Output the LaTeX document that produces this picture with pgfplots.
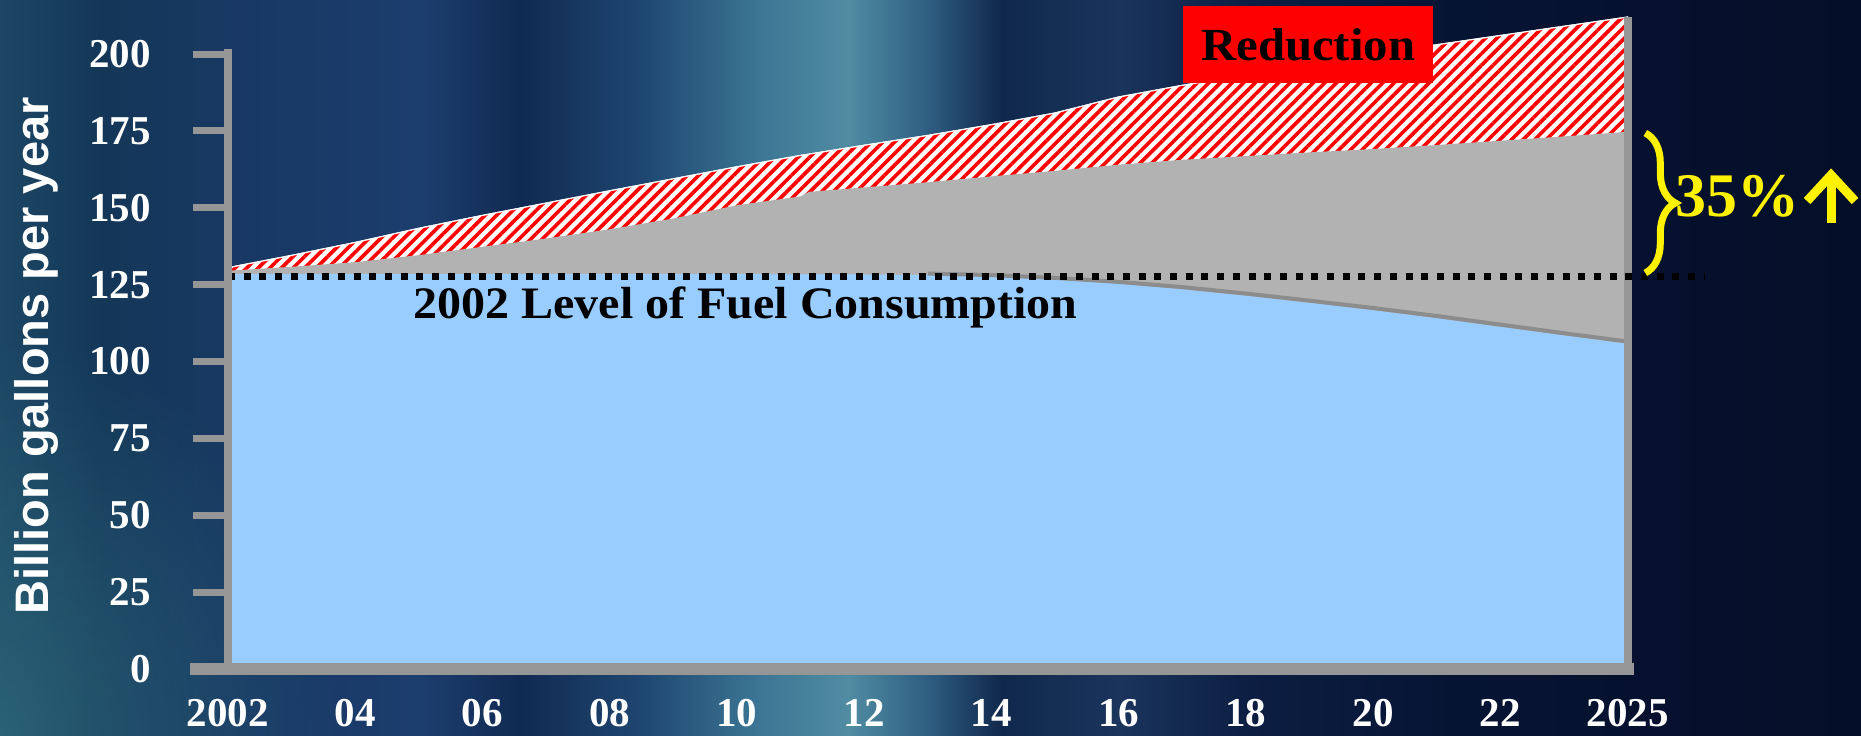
\documentclass[border=0pt]{standalone}
\usepackage{pgfplots}
\pgfplotsset{compat=1.18}
\usepackage{fontspec}
\setmainfont{Liberation Serif}
\newfontfamily\arialf{Liberation Sans}
\usetikzlibrary{patterns.meta, decorations.pathreplacing, arrows.meta, fadings}

\definecolor{axisgray}{RGB}{150,150,150}
\definecolor{areagray}{RGB}{178,178,178}
\definecolor{skyblue}{RGB}{153,204,255}
\definecolor{darkedge}{RGB}{140,140,140}
\definecolor{tealc}{RGB}{50,112,128}
\definecolor{bg0}{RGB}{28,70,100}
\definecolor{bg1}{RGB}{20,55,88}
\definecolor{bg2}{RGB}{24,56,100}
\definecolor{bg3}{RGB}{28,62,110}
\definecolor{bg4}{RGB}{16,42,82}
\definecolor{bg5}{RGB}{30,70,112}
\definecolor{bg6}{RGB}{60,118,148}
\definecolor{bg7}{RGB}{80,140,162}
\definecolor{bg8}{RGB}{45,92,128}
\definecolor{bg9}{RGB}{16,40,76}
\definecolor{bg10}{RGB}{26,52,92}
\definecolor{bg11}{RGB}{12,30,66}
\definecolor{bg12}{RGB}{6,20,52}
\definecolor{bg13}{RGB}{4,14,40}

\pgfdeclarehorizontalshading{bgshade}{100bp}{%
color(0bp)=(bg0); color(25bp)=(bg0); color(27.7bp)=(bg1); color(31.7bp)=(bg2);
color(36.3bp)=(bg3); color(39bp)=(bg4); color(42.2bp)=(bg5); color(45.4bp)=(bg6);
color(47.8bp)=(bg7); color(50bp)=(bg8); color(51.9bp)=(bg9); color(55.1bp)=(bg10);
color(58.6bp)=(bg11); color(64bp)=(bg12); color(75bp)=(bg13); color(100bp)=(bg13)}
\tikzfading[name=cornerfade, inner color=transparent!35, outer color=transparent!100]

\begin{document}
\begin{tikzpicture}
\path[use as bounding box] (-114pt,-33pt) rectangle (816.5pt,334.5pt);
\shade[shading=bgshade] (-114pt,-33pt) rectangle (816.5pt,334.5pt);
\begin{scope}
\clip (-114pt,-33pt) rectangle (816.5pt,334.5pt);
\fill[tealc, path fading=cornerfade] (-114pt,-33pt) ellipse (170pt and 200pt);
\end{scope}
\begin{axis}[
  at={(0,0)}, anchor=south west, scale only axis,
  width=699.75pt, height=307.5pt,
  xmin=0, xmax=11, ymin=0, ymax=200,
  clip=false, axis on top,
  axis x line=bottom, axis y line=left,
  every outer x axis line/.append style={-},
  every outer y axis line/.append style={-},
  x axis line style={-, draw=axisgray, line width=6pt, shorten <=-19pt, shorten >=-3pt},
  y axis line style={-, draw=axisgray, line width=4pt, shorten >=-2.5pt},
  xtick={0,...,11},
  xticklabels={2002,04,06,08,10,12,14,16,18,20,22,2025},
  ytick={0,25,...,200},
  tick align=outside, major tick length=17.5pt,
  xtick style={draw=none},
  ytick style={draw=axisgray, line width=3.5pt},
  ticklabel style={text=white, font=\fontsize{20.5}{24}\selectfont\bfseries},
  /pgf/number format/assume math mode=true,
  yticklabel style={anchor=east, inner sep=0pt, xshift=-21pt},
  xticklabel style={anchor=base, inner sep=0pt, yshift=-11pt},
]
% total projected consumption (top of hatched reduction area)
\addplot[draw=white, line width=0.6pt, fill=white,
  postaction={pattern={Lines[angle=45,distance=4.1pt,line width=1.8pt]}, pattern color=red}]
  coordinates {(0,130.5) (0.5,134.5) (1,138.7) (1.5,143.3) (2,147.5) (2.5,151.5) (3,155.5)
  (3.5,159.4) (4,163.3) (4.5,167) (5,170.3) (5.5,173.5) (6,177) (6.5,180.8) (7,186)
  (7.5,189.8) (8,193.2) (8.5,196.6) (9,199.8) (9.5,203) (10,206) (10.5,209) (11,212)} \closedcycle;
% gray area top
\addplot[draw=none, fill=areagray]
  coordinates {(0,129.5) (0.5,130.8) (1,132.3) (1.5,134.6) (2,137.3) (2.5,140) (3,143)
  (3.5,146.5) (4,150.8) (4.5,153.7) (4.57,155.2) (5,156.6) (5.5,158.3) (6,160.2) (6.5,162)
  (7,164) (7.5,165.6) (8,166.8) (8.5,168) (9,169.1) (9.5,170.4) (10,171.8) (10.5,173.2) (11,174.7)} \closedcycle;
% blue area top
\addplot[draw=none, fill=skyblue]
  coordinates {(0,128.4) (1,128.4) (2,128.4) (3,128.4) (4,128.4) (5,128.3) (5.5,128.1)
  (6,127.6) (6.5,126.6) (7,125.3) (7.5,123.5) (8,121.4) (8.5,119.1) (9,116.7) (9.5,114.1)
  (10,111.3) (10.5,108.5) (11,105.8)} \closedcycle;
\addplot[darkedge, line width=2pt]
  coordinates {(5.5,128.6) (6,128.1) (6.5,127.2) (7,125.9) (7.5,124.2) (8,122.1) (8.5,119.8)
  (9,117.4) (9.5,114.8) (10,112.0) (10.5,109.2) (11,106.5)};
% right wall
\addplot[axisgray, line width=4pt] coordinates {(11,0) (11,212)};
% 2002 level
\addplot[black, line width=3.6pt, dash pattern=on 3.5pt off 4.35pt]
  coordinates {(0,127.7) (11.6,127.7)};

\node[anchor=base west, inner sep=0pt, font=\fontsize{22.5}{26}\selectfont\bfseries]
  at (axis cs:1.454,114.1) {\scalebox{1.067}[1]{2002 Level of Fuel Consumption}};
\node[fill=red, minimum width=125pt, minimum height=38.5pt, inner sep=0pt,
  font=\fontsize{23}{26}\selectfont\bfseries] at (axis cs:8.49,203.1) {\scalebox{1.06}[1]{Reduction}};
\node[anchor=base west, inner sep=0pt, text=yellow, font=\fontsize{31}{34}\selectfont\bfseries]
  at (axis cs:11.376,147) {35\%};
\draw[yellow, line width=4.5pt, -{Straight Barb[length=13pt, width=24pt]}]
  (axis cs:12.6,145) -- (axis cs:12.6,162.8);
\draw[yellow, line width=3.5pt, decorate, decoration={brace, amplitude=15pt}]
  (axis cs:11.14,174.3) -- (axis cs:11.14,128.8);
\end{axis}
\node[rotate=90, anchor=base, inner sep=0pt, text=white,
  font=\arialf\fontsize{23.5}{28}\selectfont\bfseries] at (-89.5pt,156.5pt) {Billion gallons per year};
\end{tikzpicture}
\end{document}
